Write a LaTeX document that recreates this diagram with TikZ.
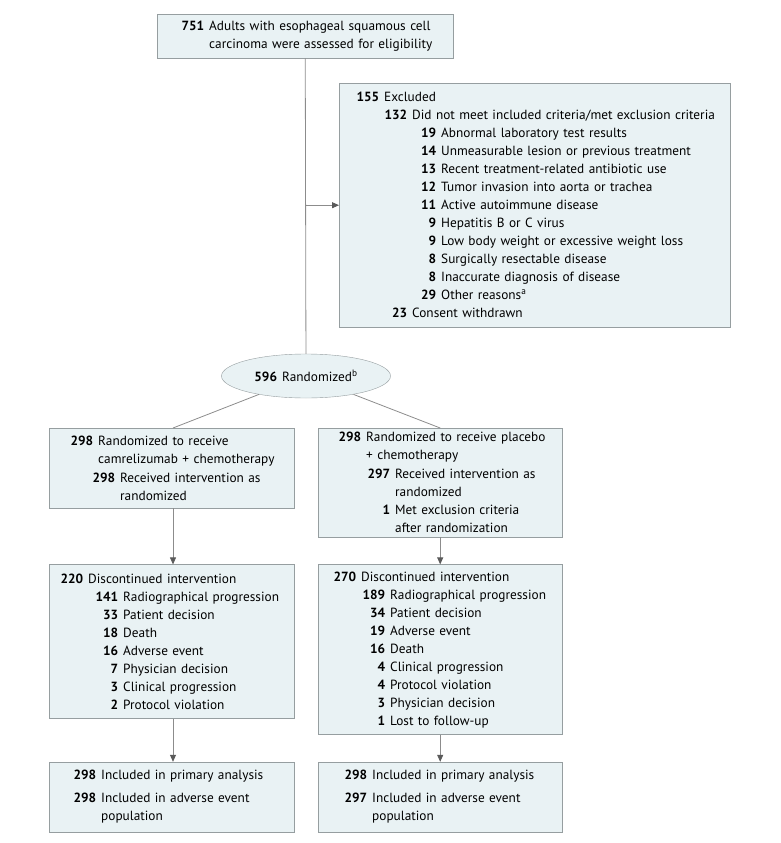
\documentclass[tikz,border=0pt]{standalone}
\usepackage{fontspec}
\setmainfont{PT Sans}
\usepackage{tikz}
\usetikzlibrary{shapes.geometric,arrows.meta,positioning}
\definecolor{boxfill}{RGB}{233,242,244}
\definecolor{boxline}{RGB}{150,158,160}
\definecolor{linkgray}{RGB}{140,140,140}
\definecolor{tipgray}{RGB}{90,90,90}
% number right-aligned in a column, text after it
\newcommand{\ent}[3]{\makebox[#1][r]{\textbf{#2}}\hspace{5pt}#3}
\newcommand{\cnt}[2]{\hspace*{\dimexpr#1+5pt\relax}#2}

\begin{document}
\begin{tikzpicture}[
    x=1pt, y=-1pt,
    node distance=27pt,
    flowbox/.style={rectangle, draw=boxline, fill=boxfill, inner xsep=0pt, inner ysep=0pt, align=left, anchor=north west, font=\fontsize{13.3}{18}\selectfont},
    randnode/.style={ellipse, draw=boxline, fill=boxfill, minimum width=169pt, minimum height=44pt, inner sep=0pt, font=\fontsize{13.3}{18}\selectfont},
    link/.style={draw=linkgray, line width=0.8pt},
    arrow/.style={link, -{Triangle[length=7pt,width=6pt,fill=tipgray,color=tipgray]}}
]
\useasboundingbox (0,0) rectangle (780,843);

% screening
\node [flowbox, text width=296pt, minimum height=44pt] (assess) at (157,14)
  {\ent{47pt}{751}{Adults with esophageal squamous cell}\\
   \cnt{47pt}{carcinoma were assessed for eligibility}};

\node [flowbox, text width=391pt, minimum height=244pt] (excl) at (339,83)
  {\ent{40pt}{155}{Excluded}\\
   \ent{68pt}{132}{Did not meet included criteria/met exclusion criteria}\\
   \ent{97pt}{19}{Abnormal laboratory test results}\\
   \ent{97pt}{14}{Unmeasurable lesion or previous treatment}\\
   \ent{97pt}{13}{Recent treatment-related antibiotic use}\\
   \ent{97pt}{12}{Tumor invasion into aorta or trachea}\\
   \ent{97pt}{11}{Active autoimmune disease}\\
   \ent{97pt}{9}{Hepatitis B or C virus}\\
   \ent{97pt}{9}{Low body weight or excessive weight loss}\\
   \ent{97pt}{8}{Surgically resectable disease}\\
   \ent{97pt}{8}{Inaccurate diagnosis of disease}\\
   \ent{97pt}{29}{Other reasons\textsuperscript{a}}\\
   \ent{68pt}{23}{Consent withdrawn}};

\node [randnode] (rand) at (306,376) {\textbf{596}\hspace{5pt}Randomized\textsuperscript{b}};

% allocation
\node [flowbox, text width=245pt, minimum height=80pt] (lrand) at (49,428)
  {\ent{44pt}{298}{Randomized to receive}\\
   \cnt{44pt}{camrelizumab + chemotherapy}\\[1pt]
   \ent{66pt}{298}{Received intervention as}\\
   \cnt{66pt}{randomized}};
\node [flowbox, text width=244pt, minimum height=109pt] (rrand) at (318,428)
  {\ent{43pt}{298}{Randomized to receive placebo}\\
   \cnt{43pt}{+ chemotherapy}\\[1pt]
   \ent{72pt}{297}{Received intervention as}\\
   \cnt{72pt}{randomized}\\
   \ent{72pt}{1}{Met exclusion criteria}\\
   \cnt{72pt}{after randomization}};

% follow-up
\node [flowbox, text width=245pt, minimum height=154pt, below=56pt of lrand] (ldisc)
  {\ent{34pt}{220}{Discontinued intervention}\\
   \ent{69pt}{141}{Radiographical progression}\\
   \ent{69pt}{33}{Patient decision}\\
   \ent{69pt}{18}{Death}\\
   \ent{69pt}{16}{Adverse event}\\
   \ent{69pt}{7}{Physician decision}\\
   \ent{69pt}{3}{Clinical progression}\\
   \ent{69pt}{2}{Protocol violation}};
\node [flowbox, text width=244pt, minimum height=170pt, below=of rrand] (rdisc)
  {\ent{38pt}{270}{Discontinued intervention}\\
   \ent{67pt}{189}{Radiographical progression}\\
   \ent{67pt}{34}{Patient decision}\\
   \ent{67pt}{19}{Adverse event}\\
   \ent{67pt}{16}{Death}\\
   \ent{67pt}{4}{Clinical progression}\\
   \ent{67pt}{4}{Protocol violation}\\
   \ent{67pt}{3}{Physician decision}\\
   \ent{67pt}{1}{Lost to follow-up}};

% analysis
\node [flowbox, text width=245pt, minimum height=70pt, below=43pt of ldisc] (lanal)
  {\ent{47pt}{298}{Included in primary analysis}\\[5pt]
   \ent{47pt}{298}{Included in adverse event}\\
   \cnt{47pt}{population}};
\node [flowbox, text width=244pt, minimum height=70pt, below=of rdisc] (ranal)
  {\ent{49pt}{298}{Included in primary analysis}\\[5pt]
   \ent{49pt}{297}{Included in adverse event}\\
   \cnt{49pt}{population}};

\coordinate (lcol) at (173,0);

\path [link] (assess) -- (rand);
\path [arrow] (assess.south |- excl.west) -- (excl.west);
\path [link] (rand) -- (lrand.north -| lcol);
\path [link] (rand) -- (rrand.north);
\path [arrow] (lrand.south -| lcol) -- (ldisc.north -| lcol);
\path [arrow] (rrand) -- (rdisc);
\path [arrow] (ldisc.south -| lcol) -- (lanal.north -| lcol);
\path [arrow] (rdisc) -- (ranal);

\end{tikzpicture}
\end{document}
